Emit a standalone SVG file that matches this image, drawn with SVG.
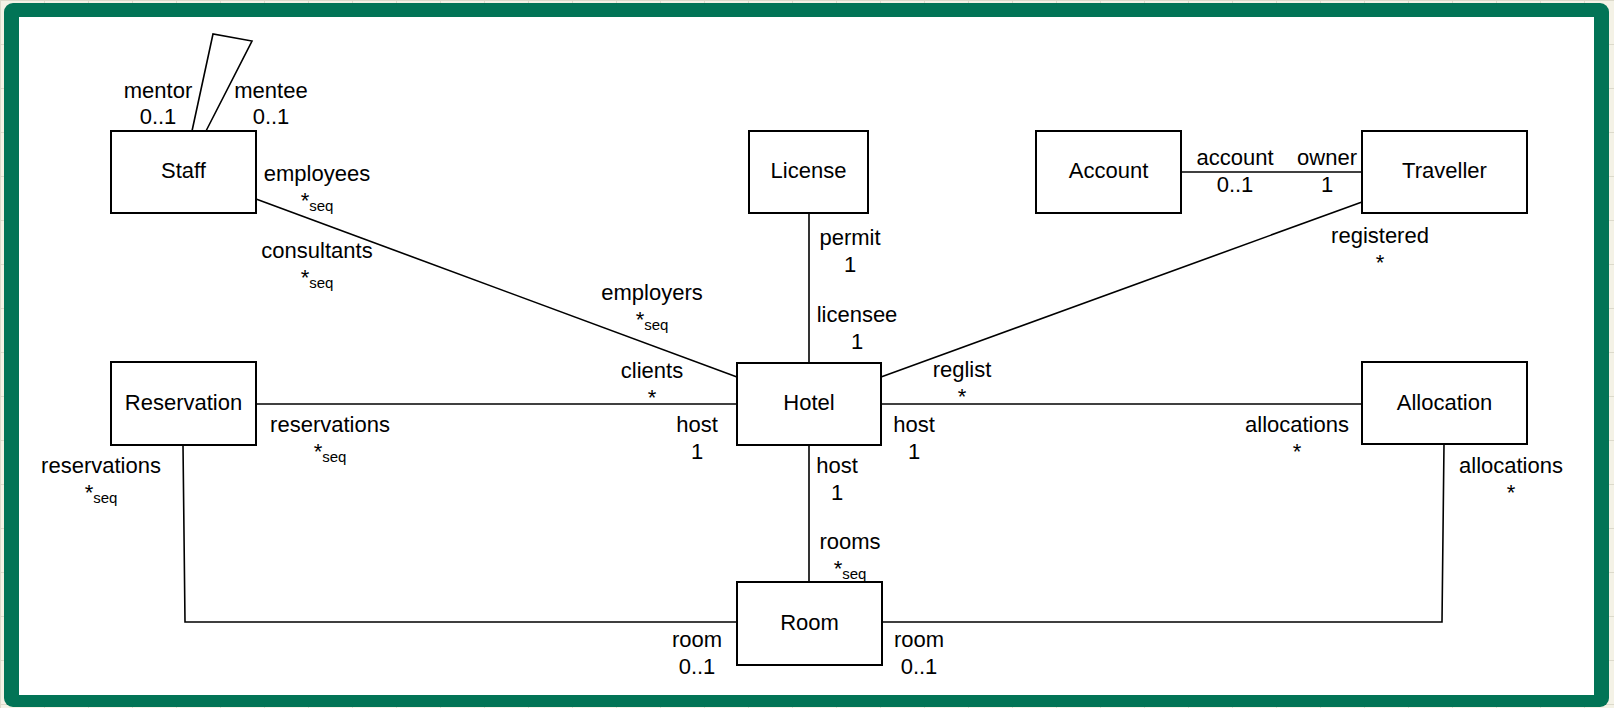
<svg xmlns="http://www.w3.org/2000/svg" width="1614" height="708" viewBox="0 0 1614 708">
<defs>
<pattern id="grid" width="44" height="44" patternUnits="userSpaceOnUse">
<rect width="44" height="44" fill="#f4f2e6"/>
<path d="M0 0.5H44M0.5 0V44" stroke="#dcdacb" stroke-width="1"/>
</pattern>
</defs>
<style>
text{font-family:"Liberation Sans",Arial,Helvetica,sans-serif;font-size:22px;fill:#000;text-anchor:middle}
.box{fill:#fff;stroke:#000;stroke-width:2}
.edge{fill:none;stroke:#000;stroke-width:1.6}
.sub{font-size:15px}
</style>
<rect width="1614" height="708" fill="url(#grid)"/>
<rect x="4" y="3" width="1605" height="704" rx="9" fill="#027456"/>
<rect x="19" y="17" width="1575" height="678" fill="#fff"/>

<g id="connectors">
<path class="edge" d="M192,131 L213,34 L252,41 L206,131"/>
<path class="edge" d="M256,199 L737,377"/>
<path class="edge" d="M809,213 L809,363"/>
<path class="edge" d="M1181,172 L1362,172"/>
<path class="edge" d="M1362,202 L881,377"/>
<path class="edge" d="M256,404 L737,404"/>
<path class="edge" d="M881,404 L1362,404"/>
<path class="edge" d="M809,445 L809,582"/>
<path class="edge" d="M183,445 L185,622 L737,622"/>
<path class="edge" d="M1444,444 L1442,622 L882,622"/>

<text x="158" y="98">mentor<tspan x="158" y="124">0..1</tspan></text>
<text x="271" y="98">mentee<tspan x="271" y="124">0..1</tspan></text>
<text x="317" y="181">employees<tspan x="317" y="208">*</tspan><tspan class="sub" dy="3">seq</tspan></text>
<text x="317" y="258">consultants<tspan x="317" y="285">*</tspan><tspan class="sub" dy="3">seq</tspan></text>
<text x="652" y="300">employers<tspan x="652" y="327">*</tspan><tspan class="sub" dy="3">seq</tspan></text>
<text x="652" y="378">clients<tspan x="652" y="405">*</tspan></text>
<text x="330" y="432">reservations<tspan x="330" y="459">*</tspan><tspan class="sub" dy="3">seq</tspan></text>
<text x="101" y="473">reservations<tspan x="101" y="500">*</tspan><tspan class="sub" dy="3">seq</tspan></text>
<text x="850" y="245">permit<tspan x="850" y="272">1</tspan></text>
<text x="857" y="322">licensee<tspan x="857" y="349">1</tspan></text>
<text x="697" y="432">host<tspan x="697" y="459">1</tspan></text>
<text x="914" y="432">host<tspan x="914" y="459">1</tspan></text>
<text x="837" y="473">host<tspan x="837" y="500">1</tspan></text>
<text x="850" y="549">rooms<tspan x="850" y="576">*</tspan><tspan class="sub" dy="3">seq</tspan></text>
<text x="697" y="647">room<tspan x="697" y="674">0..1</tspan></text>
<text x="919" y="647">room<tspan x="919" y="674">0..1</tspan></text>
<text x="1235" y="165">account<tspan x="1235" y="192">0..1</tspan></text>
<text x="1327" y="165">owner<tspan x="1327" y="192">1</tspan></text>
<text x="1380" y="243">registered<tspan x="1380" y="270">*</tspan></text>
<text x="962" y="377">reglist<tspan x="962" y="404">*</tspan></text>
<text x="1297" y="432">allocations<tspan x="1297" y="459">*</tspan></text>
<text x="1511" y="473">allocations<tspan x="1511" y="500">*</tspan></text>
</g>

<g id="staff"><rect class="box" x="111" y="131" width="145" height="82"/><text x="183.5" y="178">Staff</text></g>
<g id="license"><rect class="box" x="749" y="131" width="119" height="82"/><text x="808.5" y="178">License</text></g>
<g id="account"><rect class="box" x="1036" y="131" width="145" height="82"/><text x="1108.5" y="178">Account</text></g>
<g id="traveller"><rect class="box" x="1362" y="131" width="165" height="82"/><text x="1444.5" y="178">Traveller</text></g>
<g id="reservation"><rect class="box" x="111" y="362" width="145" height="83"/><text x="183.5" y="410">Reservation</text></g>
<g id="hotel"><rect class="box" x="737" y="363" width="144" height="82"/><text x="809" y="410">Hotel</text></g>
<g id="allocation"><rect class="box" x="1362" y="362" width="165" height="82"/><text x="1444.5" y="410">Allocation</text></g>
<g id="room"><rect class="box" x="737" y="582" width="145" height="83"/><text x="809.5" y="630">Room</text></g>
</svg>
